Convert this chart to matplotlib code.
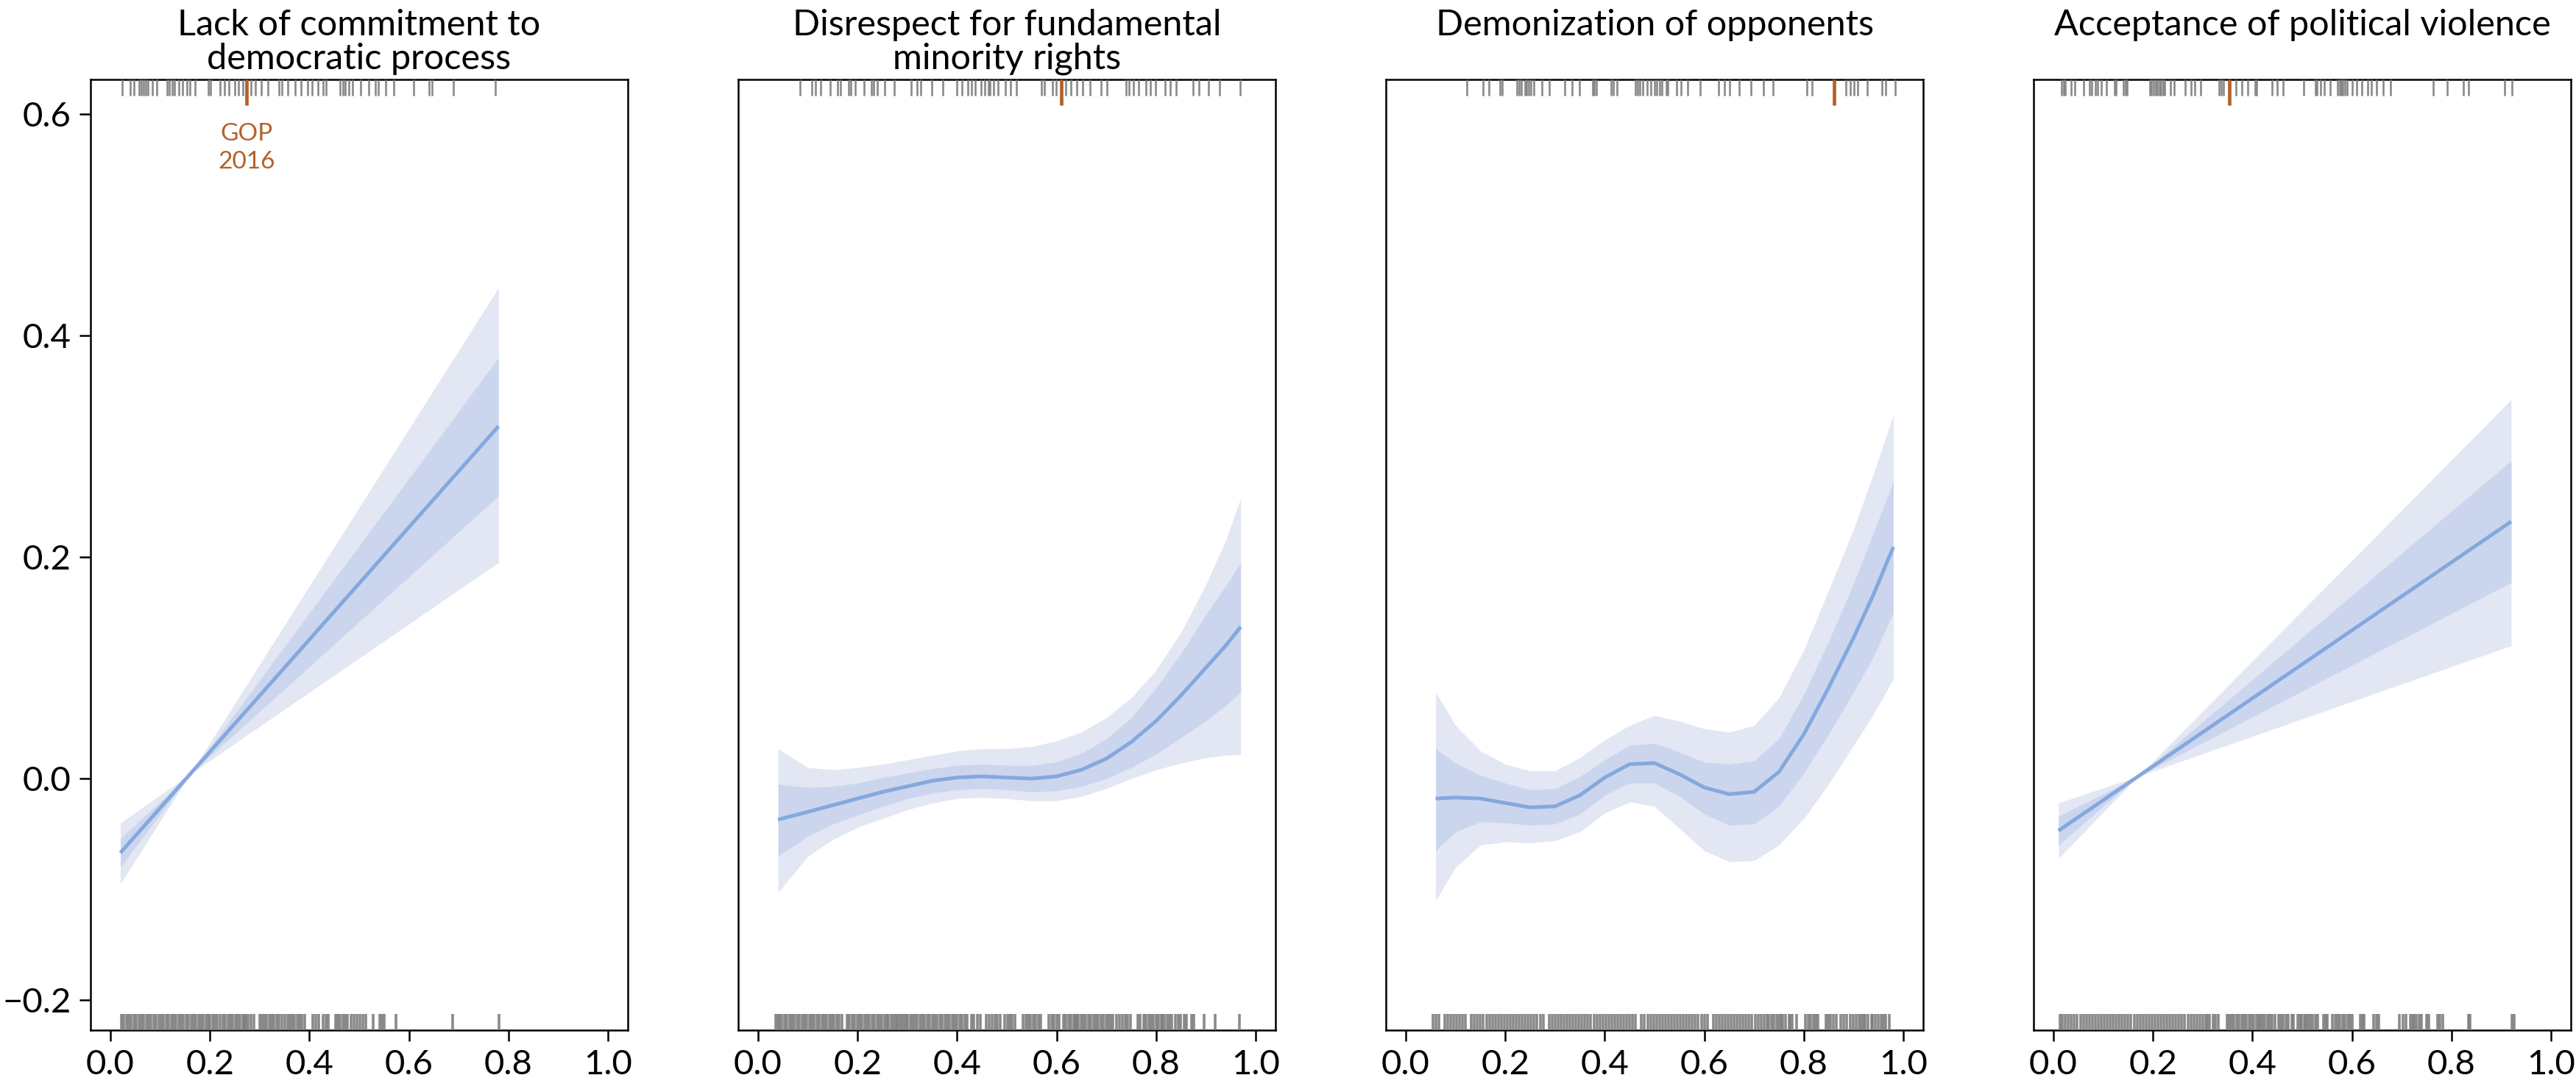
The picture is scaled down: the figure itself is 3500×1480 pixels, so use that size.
import matplotlib
matplotlib.use('Agg')
import matplotlib.pyplot as plt
from matplotlib.transforms import blended_transform_factory

plt.rcParams['font.family'] = ['Lato', 'DejaVu Sans']

# ---------------- data ----------------
titles = ["Lack of commitment to\ndemocratic process",
          "Disrespect for fundamental\nminority rights",
          "Demonization of opponents",
          "Acceptance of political violence"]

x_ticks = [0.0, 0.2, 0.4, 0.6, 0.8, 1.0]
y_ticks = [-0.2, 0.0, 0.2, 0.4, 0.6]

# panel 1
p1_x = [0.02, 0.16, 0.78]
p1_fit = [-0.067, 0.004, 0.318]
p1_in_lo = [-0.080, 0.004, 0.255]
p1_in_hi = [-0.054, 0.004, 0.380]
p1_out_lo = [-0.095, 0.004, 0.195]
p1_out_hi = [-0.040, 0.004, 0.443]

# panel 2
p2_x = [0.04, 0.10, 0.15, 0.20, 0.25, 0.30, 0.35, 0.40, 0.45, 0.50, 0.55, 0.60, 0.65, 0.70, 0.75, 0.80, 0.85, 0.90, 0.94, 0.97]
p2_fit = [-0.037, -0.030, -0.024, -0.018, -0.012, -0.007, -0.002, 0.001, 0.002, 0.001, 0.000, 0.002, 0.008, 0.018, 0.033, 0.052, 0.075, 0.100, 0.120, 0.137]
p2_in_lo = [-0.070, -0.052, -0.041, -0.033, -0.025, -0.018, -0.013, -0.010, -0.009, -0.010, -0.012, -0.011, -0.007, 0.000, 0.010, 0.022, 0.037, 0.052, 0.066, 0.078]
p2_in_hi = [-0.005, -0.008, -0.007, -0.004, 0.001, 0.005, 0.009, 0.012, 0.013, 0.012, 0.012, 0.015, 0.023, 0.036, 0.055, 0.082, 0.113, 0.148, 0.174, 0.195]
p2_out_lo = [-0.103, -0.070, -0.055, -0.044, -0.036, -0.028, -0.022, -0.018, -0.017, -0.018, -0.020, -0.020, -0.016, -0.009, 0.000, 0.008, 0.014, 0.019, 0.021, 0.022]
p2_out_hi = [0.027, 0.010, 0.008, 0.010, 0.013, 0.017, 0.021, 0.025, 0.027, 0.027, 0.029, 0.034, 0.042, 0.055, 0.073, 0.098, 0.132, 0.175, 0.215, 0.253]

# panel 3
p3_x = [0.06, 0.10, 0.15, 0.20, 0.25, 0.30, 0.35, 0.40, 0.45, 0.50, 0.55, 0.60, 0.65, 0.70, 0.75, 0.80, 0.85, 0.90, 0.94, 0.98]
p3_fit = [-0.018, -0.017, -0.018, -0.022, -0.026, -0.025, -0.015, 0.001, 0.013, 0.014, 0.004, -0.008, -0.014, -0.012, 0.006, 0.040, 0.082, 0.127, 0.166, 0.209]
p3_in_lo = [-0.065, -0.048, -0.039, -0.040, -0.042, -0.041, -0.032, -0.015, -0.004, -0.004, -0.016, -0.032, -0.042, -0.041, -0.025, 0.005, 0.040, 0.078, 0.110, 0.150]
p3_in_hi = [0.027, 0.014, 0.003, -0.004, -0.010, -0.009, 0.002, 0.017, 0.030, 0.032, 0.024, 0.015, 0.013, 0.016, 0.036, 0.076, 0.124, 0.176, 0.222, 0.268]
p3_out_lo = [-0.110, -0.080, -0.060, -0.057, -0.058, -0.056, -0.048, -0.031, -0.021, -0.025, -0.045, -0.065, -0.075, -0.074, -0.060, -0.036, -0.005, 0.030, 0.058, 0.090]
p3_out_hi = [0.078, 0.048, 0.025, 0.013, 0.007, 0.007, 0.019, 0.035, 0.048, 0.057, 0.052, 0.045, 0.042, 0.048, 0.073, 0.116, 0.170, 0.225, 0.275, 0.328]

# panel 4
p4_x = [0.01, 0.17, 0.92]
p4_fit = [-0.047, 0.002, 0.232]
p4_in_lo = [-0.060, 0.002, 0.177]
p4_in_hi = [-0.034, 0.002, 0.287]
p4_out_lo = [-0.072, 0.002, 0.120]
p4_out_hi = [-0.022, 0.002, 0.342]

# GOP 2016 positions (orange marks)
gop_x = [0.274, 0.609, 0.861, 0.354]
gop_label = "GOP\n2016"

# top rugs (party positions)
p1_top = [0.024, 0.040, 0.047, 0.057, 0.062, 0.067, 0.071, 0.076, 0.085, 0.093, 0.114, 0.119, 0.124, 0.128,
          0.138, 0.145, 0.154, 0.159, 0.170, 0.197, 0.201, 0.221, 0.229, 0.238, 0.250, 0.257, 0.266, 0.283,
          0.291, 0.303, 0.317, 0.338, 0.345, 0.357, 0.371, 0.383, 0.397, 0.406, 0.417, 0.428, 0.434, 0.462,
          0.468, 0.472, 0.479, 0.486, 0.503, 0.519, 0.533, 0.538, 0.553, 0.569, 0.610, 0.641, 0.647, 0.690, 0.774]
p2_top = [0.085, 0.108, 0.115, 0.125, 0.145, 0.159, 0.166, 0.182, 0.187, 0.195, 0.213, 0.228, 0.232, 0.240,
          0.255, 0.274, 0.308, 0.319, 0.327, 0.349, 0.372, 0.399, 0.410, 0.421, 0.429, 0.436, 0.448, 0.455,
          0.463, 0.466, 0.474, 0.482, 0.497, 0.508, 0.519, 0.569, 0.576, 0.591, 0.599, 0.618, 0.629, 0.640,
          0.652, 0.667, 0.690, 0.701, 0.739, 0.746, 0.754, 0.765, 0.780, 0.788, 0.799, 0.818, 0.829, 0.841,
          0.875, 0.886, 0.905, 0.928, 0.969]
p3_top = [0.122, 0.156, 0.167, 0.190, 0.194, 0.224, 0.228, 0.232, 0.239, 0.243, 0.247, 0.251, 0.258, 0.273,
          0.288, 0.319, 0.334, 0.349, 0.375, 0.379, 0.383, 0.412, 0.417, 0.424, 0.462, 0.466, 0.470, 0.477,
          0.485, 0.492, 0.500, 0.504, 0.511, 0.515, 0.523, 0.526, 0.545, 0.553, 0.567, 0.591, 0.628, 0.640,
          0.651, 0.670, 0.694, 0.719, 0.738, 0.806, 0.817, 0.885, 0.893, 0.901, 0.908, 0.927, 0.957, 0.965, 0.984]
p4_top = [0.016, 0.020, 0.024, 0.035, 0.043, 0.060, 0.073, 0.077, 0.084, 0.088, 0.096, 0.107, 0.122, 0.126,
          0.141, 0.145, 0.148, 0.194, 0.197, 0.201, 0.205, 0.209, 0.213, 0.216, 0.220, 0.224, 0.235, 0.243,
          0.265, 0.277, 0.284, 0.296, 0.333, 0.337, 0.341, 0.367, 0.379, 0.390, 0.405, 0.409, 0.439, 0.450,
          0.462, 0.503, 0.526, 0.530, 0.537, 0.545, 0.556, 0.571, 0.575, 0.579, 0.582, 0.586, 0.590, 0.601,
          0.609, 0.620, 0.631, 0.639, 0.650, 0.662, 0.677, 0.763, 0.792, 0.824, 0.835, 0.907, 0.922]

# bottom rugs (respondents)
p1_bot = [0.022, 0.027, 0.032, 0.037, 0.042, 0.047, 0.052, 0.057, 0.062, 0.067, 0.072, 0.077, 0.082, 0.087,
          0.092, 0.097, 0.102, 0.107, 0.112, 0.117, 0.122, 0.127, 0.132, 0.137, 0.142, 0.147, 0.152, 0.157,
          0.162, 0.167, 0.172, 0.177, 0.182, 0.187, 0.192, 0.197, 0.200, 0.205, 0.210, 0.214, 0.221, 0.226,
          0.231, 0.236, 0.241, 0.246, 0.251, 0.256, 0.261, 0.266, 0.269, 0.272, 0.277, 0.282, 0.288, 0.300,
          0.304, 0.309, 0.314, 0.319, 0.324, 0.329, 0.334, 0.339, 0.345, 0.350, 0.356, 0.361, 0.366, 0.370,
          0.375, 0.380, 0.385, 0.390, 0.407, 0.412, 0.418, 0.428, 0.433, 0.438, 0.452, 0.457, 0.462, 0.467,
          0.472, 0.477, 0.483, 0.490, 0.496, 0.502, 0.508, 0.514, 0.528, 0.541, 0.546, 0.550, 0.574, 0.688, 0.781]
p2_bot = [0.036, 0.040, 0.043, 0.048, 0.053, 0.058, 0.063, 0.068, 0.073, 0.078, 0.083, 0.088, 0.093, 0.098,
          0.103, 0.108, 0.113, 0.118, 0.123, 0.128, 0.133, 0.138, 0.143, 0.148, 0.153, 0.158, 0.163, 0.169,
          0.179, 0.184, 0.189, 0.194, 0.199, 0.204, 0.209, 0.214, 0.219, 0.224, 0.229, 0.234, 0.239, 0.244,
          0.249, 0.254, 0.259, 0.262, 0.267, 0.272, 0.276, 0.279, 0.284, 0.289, 0.293, 0.297, 0.301, 0.306,
          0.310, 0.315, 0.320, 0.325, 0.330, 0.335, 0.340, 0.345, 0.350, 0.355, 0.360, 0.365, 0.370, 0.375,
          0.380, 0.385, 0.390, 0.395, 0.400, 0.405, 0.410, 0.415, 0.420, 0.429, 0.434, 0.441, 0.446, 0.459,
          0.464, 0.471, 0.476, 0.481, 0.486, 0.496, 0.501, 0.506, 0.511, 0.516, 0.533, 0.538, 0.543, 0.548,
          0.553, 0.558, 0.563, 0.568, 0.585, 0.590, 0.595, 0.600, 0.605, 0.614, 0.619, 0.624, 0.629, 0.634,
          0.637, 0.641, 0.644, 0.649, 0.654, 0.659, 0.664, 0.669, 0.674, 0.679, 0.684, 0.689, 0.694, 0.699,
          0.704, 0.709, 0.713, 0.721, 0.726, 0.733, 0.738, 0.743, 0.748, 0.763, 0.768, 0.775, 0.780, 0.785,
          0.790, 0.795, 0.800, 0.805, 0.810, 0.812, 0.817, 0.822, 0.827, 0.832, 0.839, 0.844, 0.849, 0.857,
          0.861, 0.871, 0.876, 0.896, 0.918, 0.967]
p3_bot = [0.055, 0.060, 0.066, 0.078, 0.084, 0.090, 0.096, 0.102, 0.108, 0.114, 0.120, 0.132, 0.138, 0.144,
          0.150, 0.156, 0.162, 0.168, 0.174, 0.180, 0.186, 0.192, 0.198, 0.204, 0.210, 0.216, 0.222, 0.228,
          0.234, 0.240, 0.246, 0.252, 0.258, 0.264, 0.270, 0.276, 0.288, 0.294, 0.300, 0.306, 0.312, 0.318,
          0.324, 0.330, 0.336, 0.342, 0.348, 0.354, 0.360, 0.366, 0.372, 0.378, 0.384, 0.390, 0.396, 0.402,
          0.408, 0.414, 0.420, 0.426, 0.432, 0.438, 0.444, 0.450, 0.456, 0.462, 0.474, 0.480, 0.486, 0.492,
          0.498, 0.504, 0.510, 0.516, 0.522, 0.528, 0.534, 0.540, 0.546, 0.552, 0.558, 0.564, 0.570, 0.576,
          0.582, 0.588, 0.594, 0.600, 0.606, 0.618, 0.624, 0.630, 0.636, 0.642, 0.648, 0.654, 0.660, 0.666,
          0.672, 0.678, 0.684, 0.690, 0.696, 0.702, 0.708, 0.714, 0.720, 0.726, 0.730, 0.735, 0.740, 0.745,
          0.750, 0.754, 0.757, 0.763, 0.770, 0.772, 0.777, 0.785, 0.804, 0.809, 0.814, 0.819, 0.824, 0.829,
          0.844, 0.849, 0.854, 0.859, 0.866, 0.874, 0.880, 0.886, 0.893, 0.899, 0.906, 0.911, 0.916, 0.920,
          0.923, 0.929, 0.936, 0.938, 0.944, 0.950, 0.955, 0.960, 0.965, 0.972]
p4_bot = [0.013, 0.018, 0.024, 0.030, 0.036, 0.042, 0.048, 0.054, 0.060, 0.066, 0.072, 0.078, 0.084, 0.090,
          0.096, 0.102, 0.108, 0.114, 0.120, 0.126, 0.132, 0.138, 0.144, 0.150, 0.156, 0.162, 0.168, 0.174,
          0.180, 0.186, 0.192, 0.198, 0.204, 0.210, 0.216, 0.222, 0.228, 0.234, 0.240, 0.246, 0.252, 0.258,
          0.264, 0.270, 0.276, 0.282, 0.288, 0.294, 0.300, 0.306, 0.309, 0.314, 0.321, 0.326, 0.331, 0.349,
          0.354, 0.358, 0.363, 0.368, 0.373, 0.378, 0.383, 0.388, 0.393, 0.398, 0.403, 0.408, 0.413, 0.415,
          0.420, 0.425, 0.430, 0.435, 0.440, 0.445, 0.452, 0.457, 0.462, 0.467, 0.472, 0.479, 0.482, 0.491,
          0.495, 0.499, 0.504, 0.508, 0.512, 0.516, 0.521, 0.526, 0.531, 0.543, 0.547, 0.551, 0.561, 0.566,
          0.571, 0.576, 0.581, 0.586, 0.591, 0.596, 0.600, 0.617, 0.621, 0.625, 0.644, 0.649, 0.654, 0.696,
          0.702, 0.708, 0.718, 0.722, 0.725, 0.730, 0.735, 0.740, 0.750, 0.755, 0.772, 0.777, 0.782, 0.834,
          0.837, 0.922, 0.926]

panels = [
    (p1_x, p1_fit, p1_in_lo, p1_in_hi, p1_out_lo, p1_out_hi, p1_top, p1_bot),
    (p2_x, p2_fit, p2_in_lo, p2_in_hi, p2_out_lo, p2_out_hi, p2_top, p2_bot),
    (p3_x, p3_fit, p3_in_lo, p3_in_hi, p3_out_lo, p3_out_hi, p3_top, p3_bot),
    (p4_x, p4_fit, p4_in_lo, p4_in_hi, p4_out_lo, p4_out_hi, p4_top, p4_bot),
]

# ---------------- style ----------------
W, H = 3500, 1480
outer_col = '#e2e7f3'
inner_col = '#cbd6ee'
line_col = '#84a8de'
rug_col = '#7d7d7d'
gop_col = '#b3612b'
lefts = [123, 1003, 1883, 2763]
ax_w, ax_b, ax_h = 730, 80, 1292

fig = plt.figure(figsize=(W / 100, H / 100), dpi=100)

for i, (xs, fit, ilo, ihi, olo, ohi, top, bot) in enumerate(panels):
    ax = fig.add_axes([lefts[i] / W, ax_b / H, ax_w / W, ax_h / H])
    ax.fill_between(xs, olo, ohi, color=outer_col, lw=0, zorder=1)
    ax.fill_between(xs, ilo, ihi, color=inner_col, lw=0, zorder=2)
    ax.plot(xs, fit, color=line_col, lw=3.6, zorder=3, solid_capstyle='butt', solid_joinstyle='round')

    tr = blended_transform_factory(ax.transData, ax.transAxes)
    ax.vlines(top, 1 - 0.017, 1, transform=tr, colors=rug_col, lw=1.9, alpha=0.9, zorder=4)
    ax.vlines(bot, 0, 0.017, transform=tr, colors=rug_col, lw=2.6, alpha=0.9, zorder=4)
    ax.vlines([gop_x[i]], 1 - 0.027, 1, transform=tr, colors=gop_col, lw=3.4, zorder=5)
    if i == 0:
        ax.text(gop_x[i], 0.954, gop_label, transform=tr, ha='center', va='top',
                color=gop_col, fontsize=24, linespacing=1.3)

    ax.set_xlim(-0.04, 1.04)
    ax.set_ylim(-0.227, 0.631)
    ax.set_xticks(x_ticks)
    ax.set_xticklabels([f"{v:.1f}" for v in x_ticks])
    ax.set_yticks(y_ticks)
    for s in ax.spines.values():
        s.set_linewidth(1.8)
        s.set_color('black')
    ax.tick_params(axis='both', direction='out', length=11, width=1.8, labelsize=34, pad=8)
    if i > 0:
        ax.tick_params(axis='y', left=False, labelleft=False)

    ax.text(0.5, 1 + 96 / ax_h, titles[i], transform=ax.transAxes, ha='center', va='top',
            fontsize=35, linespacing=1.05)

fig.savefig('out.png', dpi=100)
